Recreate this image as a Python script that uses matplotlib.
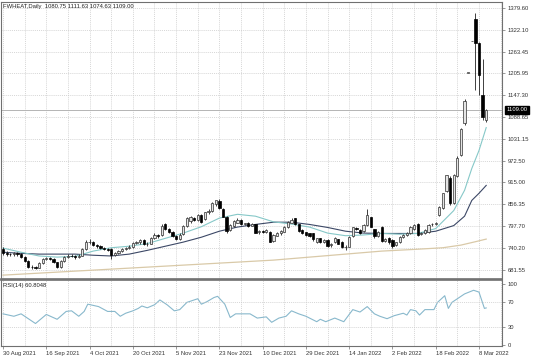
import matplotlib.pyplot as plt
import numpy as np

# daily candles, 30 Aug 2021 .. 10 Mar 2022
opens = [738, 727, 725, 723, 726, 724, 716, 705, 690, 689,
         688, 700, 711, 713, 711, 702, 690, 705, 716, 720,
         719, 716, 720, 738, 756, 755, 748, 745, 740, 738,
         737, 722, 726, 733, 737, 741, 744, 754, 755, 762,
         750, 752, 766, 776, 774, 803, 790, 783, 771, 765,
         778, 800, 812, 820, 815, 828, 818, 835, 838, 858,
         866, 843, 823, 787, 798, 808, 815, 803, 808, 800,
         803, 782, 786, 784, 784, 758, 773, 779, 784, 796,
         808, 819, 803, 787, 782, 779, 779, 757, 766, 756,
         762, 747, 755, 763, 756, 743, 744, 772, 794, 789,
         786, 801, 822, 790, 772, 796, 759, 767, 761, 748,
         756, 770, 775, 780, 790, 804, 778, 780, 784, 803,
         805, 828, 846, 893, 928, 859, 933, 987, 1072, 1207,
         1292, 1350, 1285, 1147, 1080.75]
highs = [744, 731, 728, 729, 729, 727, 719, 707, 695, 693,
         702, 713, 716, 717, 713, 704, 707, 718, 723, 724,
         722, 723, 741, 762, 765, 758, 752, 748, 743, 741,
         739, 730, 736, 740, 744, 747, 757, 759, 765, 764,
         756, 770, 779, 778, 803, 806, 794, 786, 774, 779,
         802, 823, 825, 823, 831, 831, 837, 843, 862, 866,
         872, 846, 825, 803, 814, 819, 817, 808, 810, 806,
         805, 788, 789, 790, 786, 777, 783, 788, 799, 811,
         820, 821, 805, 790, 784, 781, 780, 768, 768, 763,
         763, 754, 769, 765, 758, 747, 772, 797, 797, 791,
         803, 845, 824, 792, 786, 798, 767, 769, 763, 757,
         772, 777, 783, 798, 803, 806, 783, 791, 803, 807,
         809, 851, 888, 936, 931, 938, 984, 1060, 1136, 1207,
         1292, 1365, 1290, 1244, 1111.63]
lows = [722, 720, 719, 720, 719, 714, 703, 688, 684, 684,
        686, 697, 707, 708, 700, 687, 688, 702, 713, 715,
        712, 713, 718, 735, 750, 745, 741, 737, 734, 731,
        712, 719, 723, 730, 734, 738, 741, 750, 752, 748,
        746, 750, 763, 768, 772, 787, 780, 769, 761, 762,
        776, 797, 808, 811, 812, 806, 815, 832, 835, 852,
        845, 822, 780, 785, 796, 806, 801, 801, 796, 798,
        779, 778, 780, 781, 755, 756, 771, 776, 782, 794,
        806, 801, 784, 778, 773, 769, 760, 754, 753, 753,
        742, 744, 753, 750, 740, 735, 742, 770, 789, 777,
        784, 799, 795, 767, 769, 755, 756, 752, 741, 745,
        754, 767, 772, 778, 787, 773, 775, 777, 781, 800,
        802, 826, 844, 890, 856, 857, 930, 984, 1068, 1207,
        1292, 1160, 1147, 1080, 1074.63]
closes = [727, 725, 723, 726, 724, 716, 705, 690, 689, 688,
          700, 711, 713, 711, 702, 690, 705, 716, 720, 719,
          716, 720, 738, 756, 757, 748, 745, 740, 738, 735,
          722, 726, 733, 737, 741, 744, 754, 755, 762, 750,
          752, 768, 776, 772, 800, 790, 783, 772, 764, 776,
          800, 820, 822, 815, 828, 810, 835, 840, 860, 867,
          846, 823, 785, 801, 812, 816, 803, 806, 798, 804,
          781, 786, 783, 787, 757, 775, 781, 785, 797, 809,
          815, 803, 786, 781, 776, 771, 763, 766, 756, 761,
          745, 752, 767, 752, 742, 744, 770, 795, 792, 780,
          801, 828, 797, 771, 783, 758, 765, 755, 746, 755,
          770, 774, 781, 796, 801, 776, 780, 788, 801, 803,
          806, 849, 886, 934, 859, 935, 981, 1058, 1133, 1207,
          1292, 1285, 1200, 1088, 1109.00]

# moving averages read at sampled bars
ma_idx = [0, 5, 10, 15, 20, 25, 30, 35, 40, 45, 50, 55, 60, 65, 70, 75, 80,
          85, 90, 95, 100, 105, 110, 115, 120, 125, 128, 130, 132, 134]
ma_fast = [740, 729, 719, 716, 718, 732, 741, 745, 752, 766, 780, 797, 820, 830,
           825, 810, 804, 796, 780, 773, 775, 779, 777, 779, 792, 840, 894,
           952, 1000, 1061]
ma_mid = [729, 726, 724, 724, 724, 721, 719, 724, 734, 745, 756, 769, 785, 796,
          803, 809, 809, 803, 795, 785, 780, 779, 779, 779, 785, 800, 825,
          867, 886, 907]
tan_idx = [0, 15, 30, 45, 60, 75, 90, 105, 115, 122, 127, 131, 134]
ma_slow = [668, 676, 684, 692, 700, 708, 720, 732, 737, 741, 748, 757, 764]

rsi_idx = [0, 3, 5, 9, 12, 15, 17.5, 19, 21, 22.5, 23.5, 26.5, 29, 31, 32.5, 34,
           36, 37.5, 38.5, 40, 42, 43.5, 45.5, 47.5, 49, 51, 54, 55, 56.5, 58.5,
           59.5, 61.5, 63, 64.5, 68.5, 70.5, 73, 74.5, 76.5, 78.5, 80, 82, 84, 87,
           88, 89.5, 92, 94.5, 97, 99, 101, 103, 104.5, 106.5, 108.5, 111, 112,
           113, 114.5, 115.5, 117, 119.5, 120.5, 122.5, 123.5, 124.5, 128, 130.5,
           132, 133.5, 134]
rsi_val = [51, 47, 51, 35, 50, 42, 55, 56, 47, 55, 67, 63, 55, 55, 47, 52,
           56, 60, 64, 61, 66, 74, 66, 56, 58, 70, 76, 67, 71, 78,
           80, 67, 45, 51, 51, 44, 46, 37, 44, 47, 56, 51, 47, 38,
           42, 38, 44, 38, 58, 54, 63, 51, 47, 43, 48, 52, 49,
           58, 56, 49, 58, 58, 70, 81, 60, 70, 84, 90,
           87, 60, 60.8]

price_ticks = [681.55, 740.20, 797.70, 856.35, 915.00, 972.50, 1031.15,
               1088.65, 1147.30, 1205.95, 1263.45, 1322.10, 1379.60]
date_labels = ['30 Aug 2021', '16 Sep 2021', '4 Oct 2021', '20 Oct 2021',
               '5 Nov 2021', '23 Nov 2021', '10 Dec 2021', '29 Dec 2021',
               '14 Jan 2022', '2 Feb 2022', '18 Feb 2022', '8 Mar 2022']
date_idx = [0, 12, 24, 36, 48, 60, 72, 84, 96, 108, 120, 132]

W, H = 536, 357
font = 'Liberation Sans'
fs = 4.2
grid_kw = dict(color='#c8c8c8', lw=0.5, ls=(0, (1.5, 1.5)))
frame = '#707070'

fig = plt.figure(figsize=(W / 100, H / 100), dpi=100)
ax = fig.add_axes([0.002, 1 - 279 / H, 501 / W, 277 / H])
rax = fig.add_axes([0.002, 1 - 346 / H, 501 / W, 66 / H], sharex=ax)

x = np.arange(len(closes))
o = np.array(opens, float)
c = np.array(closes, float)
h = np.array(highs, float)
l = np.array(lows, float)

# grid
for v in price_ticks:
    ax.axhline(v, zorder=0, **grid_kw)
for k in range(0, 140, 6):
    ax.axvline(k, zorder=0, **grid_kw)
    rax.axvline(k, zorder=0, **grid_kw)

# bid line
ax.axhline(closes[-1], color='#b4b4b4', lw=0.7, zorder=1)

# moving averages
ax.plot(tan_idx, ma_slow, color='#d9c9a8', lw=0.9, zorder=2)
ax.plot(ma_idx, ma_mid, color='#3c4866', lw=0.8, zorder=2)
ax.plot(ma_idx, ma_fast, color='#86c8c8', lw=0.8, zorder=2)

# candles
up = c >= o
ax.vlines(x, l, h, color='#202020', lw=0.6, zorder=3)
body_lo = np.minimum(o, c)
body_h = np.maximum(np.abs(c - o), 0.8)
ax.bar(x[up], body_h[up], bottom=body_lo[up], width=0.62,
       color='#e4e4e4', edgecolor='#303030', linewidth=0.5, zorder=4)
ax.bar(x[~up], body_h[~up], bottom=body_lo[~up], width=0.62,
       color='black', edgecolor='black', linewidth=0.5, zorder=4)

ax.set_xlim(-0.55, 138.4)
ax.set_ylim(657.7, 1395.5)
ax.yaxis.tick_right()
ax.set_yticks(price_ticks)
ax.set_yticklabels(['%.2f' % v for v in price_ticks], fontsize=fs,
                   family=font, color='#333333')
ax.tick_params(axis='y', length=2, width=0.5, pad=2, color=frame)
ax.tick_params(axis='x', length=0, labelbottom=False)
for s in ax.spines.values():
    s.set_color(frame)
    s.set_linewidth(0.8)
ax.spines['bottom'].set_linewidth(1.2)

ax.text(0.004, 0.993, 'FWHEAT,Daily  1080.75 1111.63 1074.63 1109.00',
        transform=ax.transAxes, ha='left', va='top', fontsize=fs,
        family=font, color='#222222')
ax.text(1.008, closes[-1], '1109.00', transform=ax.get_yaxis_transform(),
        ha='left', va='center', fontsize=fs, family=font, color='white',
        bbox=dict(boxstyle='square,pad=0.25', fc='black', ec='black'))

# RSI panel
rax.plot(rsi_idx, rsi_val, color='#88b8cc', lw=0.8)
rax.axhline(70, **grid_kw)
rax.axhline(30, **grid_kw)
rax.set_ylim(-2.2, 107)
rax.yaxis.tick_right()
rax.set_yticks([0, 30, 70, 100])
rax.set_yticklabels(['0', '30', '70', '100'], fontsize=fs, family=font,
                    color='#333333')
rax.tick_params(axis='y', length=2, width=0.5, pad=2, color=frame)
rax.set_xticks(date_idx)
rax.set_xticklabels(date_labels, fontsize=fs, family=font, color='#333333',
                    ha='left')
rax.tick_params(axis='x', length=2, width=0.5, pad=1.5, color=frame)
for s in rax.spines.values():
    s.set_color(frame)
    s.set_linewidth(0.8)
rax.spines['top'].set_linewidth(1.2)
rax.text(0.004, 0.96, 'RSI(14) 60.8048', transform=rax.transAxes,
         ha='left', va='top', fontsize=fs, family=font, color='#222222')

fig.savefig('out.png', dpi=100, facecolor='white')
